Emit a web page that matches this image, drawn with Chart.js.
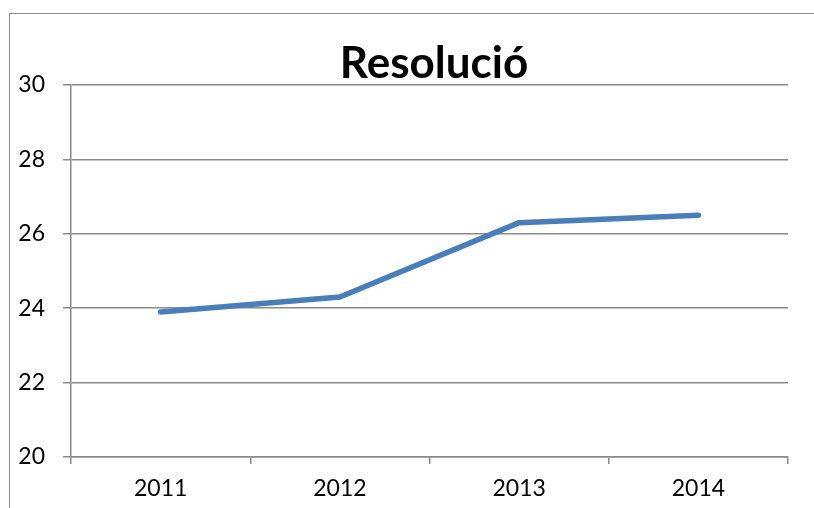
<!DOCTYPE html>
<html lang="ca">
<head>
    <meta charset="UTF-8">
    <title>Resolució</title>
    <style>
        html, body { margin: 0; padding: 0; background: #fff; }
        #wrap { position: relative; width: 814px; height: 508px; overflow: hidden; }
        #frame {
            position: absolute; left: 9px; top: 13px; width: 820px; height: 520px;
            border-left: 1.5px solid #8a8a8a; border-top: 1.5px solid #8a8a8a;
        }
        #title {
            position: absolute; left: 54px; top: 35px; width: 760px;
            text-align: center; font: bold 44px Lato, "Open Sans", sans-serif; color: #000;
        }
        canvas { position: absolute; left: 0; top: 0; }
    </style>
</head>
<body>
    <div id="wrap">
        <div id="frame"></div>
        <canvas id="lineChart" width="814" height="508"></canvas>
        <div id="title">Resolució</div>
    </div>

    <script src="https://cdn.jsdelivr.net/npm/chart.js"></script>
    <script>
        // data
        const years = ['2011', '2012', '2013', '2014'];
        const resolucio = [23.9, 24.3, 26.3, 26.5];
        const yMin = 20, yMax = 30, yStep = 2;

        const gridColor = '#8a8a8a';
        const tickFont = { family: 'Lato', size: 23 };

        const ctx = document.getElementById('lineChart').getContext('2d');
        const chart = new Chart(ctx, {
            type: 'line',
            data: {
                labels: years,
                datasets: [{
                    label: 'Resolució',
                    data: resolucio,
                    borderColor: '#4a7ebb',
                    borderWidth: 5.5,
                    borderCapStyle: 'round',
                    borderJoinStyle: 'round',
                    pointRadius: 0,
                    tension: 0,
                    fill: false,
                }]
            },
            options: {
                responsive: false,
                animation: false,
                layout: { padding: { top: 85, right: 26, left: 0, bottom: 0 } },
                plugins: {
                    legend: { display: false },
                    title: { display: false },
                    tooltip: { enabled: false },
                },
                scales: {
                    x: {
                        offset: true,
                        grid: {
                            offset: true,
                            drawOnChartArea: false,
                            drawTicks: true,
                            tickLength: 7,
                            color: gridColor,
                            lineWidth: 1.5,
                        },
                        border: { color: gridColor, width: 1.5 },
                        ticks: { color: '#000', font: tickFont, padding: 11 },
                        afterFit: function (axis) { axis.height = 51; },
                    },
                    y: {
                        min: yMin,
                        max: yMax,
                        grid: {
                            color: gridColor,
                            lineWidth: 1.5,
                            tickLength: 8,
                        },
                        border: { color: gridColor, width: 1.5 },
                        ticks: { stepSize: yStep, color: '#000', font: tickFont, padding: 18 },
                        afterFit: function (axis) { axis.width = 71; },
                    },
                },
            }
        });
    </script>
</body>
</html>
